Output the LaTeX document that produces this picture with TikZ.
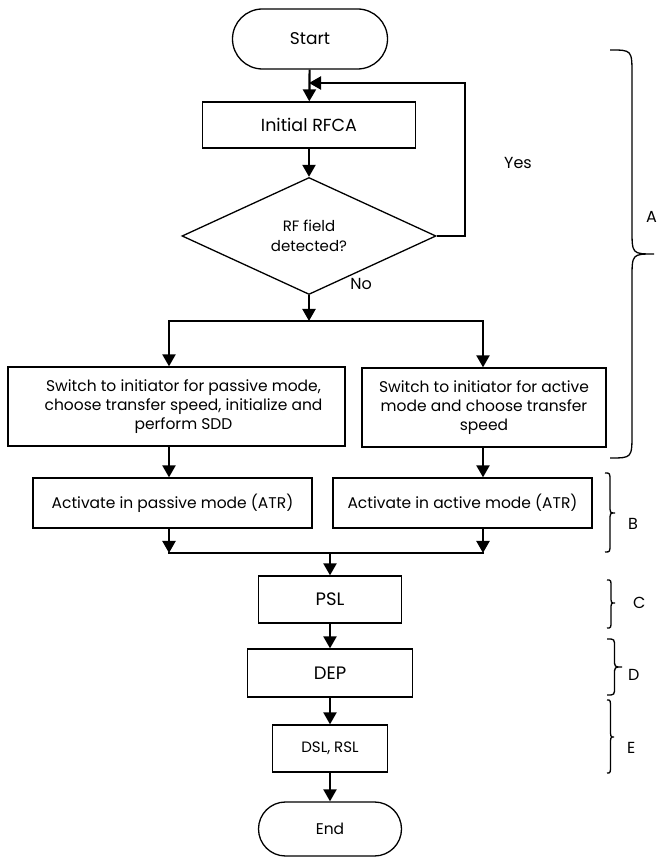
\documentclass[tikz,border=0pt]{standalone}
\usepackage{fontspec}
\setmainfont{Poppins}
\usetikzlibrary{shapes.geometric, arrows.meta, calc}

\newcommand{\stepfont}{\fontsize{15.5}{19}\selectfont}

\tikzset{
    box/.style={draw, line width=1.3pt, align=center, inner sep=0pt, font=\stepfont},
    term/.style={box, rounded corners=27pt},
    flow/.style={line width=2.2pt, -{Triangle[length=12pt, width=13pt]}},
    joinline/.style={line width=2.2pt, line cap=rect},
    braceline/.style={line width=1.3pt},
    lbl/.style={font=\fontsize{16}{18}\selectfont, inner sep=0pt}
}

\begin{document}
\begin{tikzpicture}[x=1pt, y=1pt]

\useasboundingbox (0,0) rectangle (660,857);

% --- MACRO: DRAW SECTION BRACE ---
% #1: x of the brace ends
% #2: x of the tip
% #3: top y
% #4: tip y
% #5: bottom y
% #6: curl radius
\newcommand{\drawSectionBrace}[6]{
    \pgfmathsetmacro{\bx}{(#1+#2)/2}
    \draw[braceline] (#1,#3) .. controls (\bx,#3) .. (\bx,#3-#6)
        -- (\bx,#4+#6) .. controls (\bx,#4) .. (#2,#4)
        .. controls (\bx,#4) .. (\bx,#4-#6)
        -- (\bx,#5+#6) .. controls (\bx,#5) .. (#1,#5);
}

% --- TOP: START AND RF DETECTION ---
\node[term, rounded corners=30pt, minimum width=155pt, minimum height=60pt,
      font=\fontsize{17}{19}\selectfont] (start) at (310,818) {Start};
\node[box, minimum width=213pt, minimum height=46pt,
      font=\fontsize{17.5}{19}\selectfont] (rfca) at (309,732) {Initial RFCA};
\node[box, diamond, aspect=2.17, minimum width=254pt, minimum height=117pt,
      font=\fontsize{15}{20}\selectfont] (rf) at (309,621) {RF field\\detected?};

\draw[flow] (start) -- (rfca);
\draw[flow] (rfca) -- (rf);

% loop back when a field is seen
\coordinate (loop) at (309,774);
\draw[flow] (rf.east) -- ++(28,0) |- (loop);
\node[lbl] (yes) at (518,694) {Yes};
\node[lbl] (no) at (361,573) {No};

% --- SPLIT: PASSIVE / ACTIVE ---
\coordinate (split) at (309,536);
\coordinate (splitL) at (169,536);
\coordinate (splitR) at (483,536);

\node[box, minimum width=337pt, minimum height=79pt] (pas) at (176.5,450.5)
    {\hspace*{14pt}Switch to initiator for passive mode,\\
     \hspace*{14pt}choose transfer speed, initialize and\\
     \hspace*{14pt}perform SDD};
\node[box, minimum width=244pt, minimum height=79pt] (act) at (484,449.5)
    {Switch to initiator for active\\mode and choose transfer\\speed};
\node[box, minimum width=279pt, minimum height=50pt] (atrp) at (172.5,354)
    {Activate in passive mode (ATR)};
\node[box, minimum width=259pt, minimum height=50pt] (atra) at (462.5,354)
    {Activate in active mode (ATR)};

\draw[flow] (rf.south) -- (split);
\draw[joinline] (splitL) -- (splitR);
\draw[flow] (splitL) -- (pas.north -| splitL);
\draw[flow] (splitR) -- (act.north -| splitR);
\draw[flow] (pas.south -| splitL) -- (atrp.north -| splitL);
\draw[flow] (act.south -| splitR) -- (atra.north -| splitR);

% --- MERGE ---
\coordinate (mergeL) at (169,304);
\coordinate (mergeR) at (483,304);
\coordinate (merge) at (330,304);

\draw[flow] (atrp.south -| mergeL) -- (mergeL);
\draw[flow] (atra.south -| mergeR) -- (mergeR);
\draw[joinline] (mergeL) -- (mergeR);

% --- BOTTOM: PSL, DEP, DSL ---
\node[box, minimum width=143pt, minimum height=47pt,
      font=\fontsize{18}{19}\selectfont] (psl) at (330,257.5) {PSL};
\node[box, minimum width=165pt, minimum height=48pt,
      font=\fontsize{18}{19}\selectfont] (dep) at (330,184) {DEP};
\node[box, minimum width=115pt, minimum height=47pt,
      font=\fontsize{15}{19}\selectfont] (dsl) at (330,108.5) {DSL, RSL};
\node[term, minimum width=143pt, minimum height=54pt] (end) at (330,28) {End};

\draw[flow] (merge) -- (psl);
\draw[flow] (psl) -- (dep);
\draw[flow] (dep) -- (dsl);
\draw[flow] (dsl) -- (end);

% --- SECTION BRACES ---
\drawSectionBrace{610}{654}{807}{603}{399}{25}
\drawSectionBrace{605}{615}{384}{344}{305}{8}
\drawSectionBrace{607}{615}{277}{254}{229}{7}
\drawSectionBrace{607}{622}{218}{190}{162}{8}
\drawSectionBrace{607}{614}{157}{120}{84}{8}

\node[lbl, anchor=west] (labA) at (646,640) {A};
\node[lbl, anchor=west] (labB) at (628,333) {B};
\node[lbl, anchor=west] (labC) at (633,254) {C};
\node[lbl, anchor=west] (labD) at (628,182) {D};
\node[lbl, anchor=west] (labE) at (627,109) {E};

\end{tikzpicture}
\end{document}
